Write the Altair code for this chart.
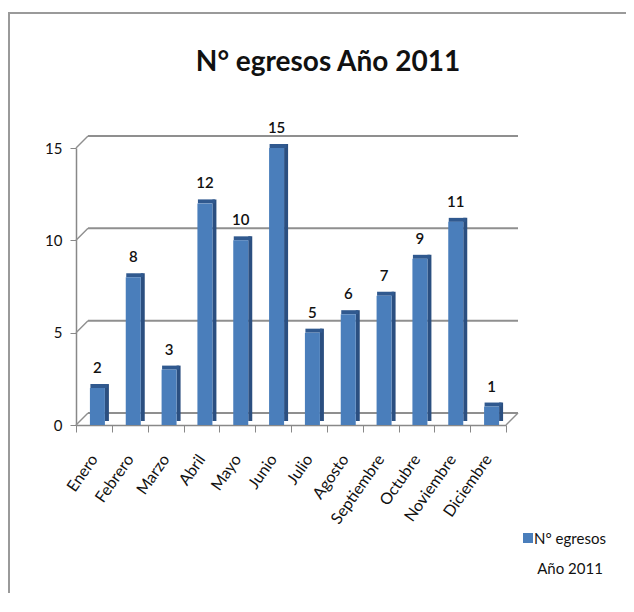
import altair as alt
import pandas as pd

months = ["Enero", "Febrero", "Marzo", "Abril", "Mayo", "Junio", "Julio",
          "Agosto", "Septiembre", "Octubre", "Noviembre", "Diciembre"]
values = [2, 8, 3, 12, 10, 15, 5, 6, 7, 9, 11, 1]
grid_values = [0, 5, 10, 15]
series_name = ["N° egresos", "Año 2011"]

df = pd.DataFrame({"mes": months, "valor": values})
gdf = pd.DataFrame({"g": grid_values})
floor = pd.DataFrame({"g": [0]})
leg = pd.DataFrame({"t": series_name, "row": [0, 1]})

W, H = 430, 277
DEPTH = 12

xenc = alt.X("mes:N", sort=months, scale=alt.Scale(paddingInner=0, paddingOuter=0),
             axis=alt.Axis(title=None, labelAngle=-55, labelFontSize=16, labelFont="Lato",
                           labelColor="#111", labelPadding=24, tickBand="extent",
                           tickSize=7, tickColor="#888", domainColor="#888",
                           domainWidth=1.5, grid=False))
yscale = alt.Scale(domain=[0, 15])
yenc = alt.Y("g:Q", scale=yscale,
             axis=alt.Axis(title=None, values=grid_values, labelFontSize=15, labelFont="Lato",
                           labelColor="#111", labelPadding=8, tickSize=6, tickColor="#888",
                           domainColor="#888", domainWidth=1.5, grid=False))

grid = alt.Chart(gdf).mark_rule(color="#8f8f8f", strokeWidth=2, yOffset=-DEPTH).encode(
    y=yenc, x=alt.value(DEPTH), x2=alt.value(W + DEPTH),
)
diag = alt.Chart(gdf).mark_rule(color="#8f8f8f", strokeWidth=1.5, y2Offset=-DEPTH).encode(
    y=alt.Y("g:Q", scale=yscale, axis=None), y2="g:Q",
    x=alt.value(0), x2=alt.value(DEPTH),
)
floor_r = alt.Chart(floor).mark_rule(color="#8f8f8f", strokeWidth=1.5, y2Offset=-DEPTH).encode(
    y=alt.Y("g:Q", scale=yscale, axis=None), y2="g:Q",
    x=alt.value(W), x2=alt.value(W + DEPTH),
)

side = alt.Chart(df).mark_bar(color="#2b4f80", width=4, xOffset=13, yOffset=-4, y2Offset=-2).encode(
    x=xenc, y=alt.Y("valor:Q", scale=yscale, axis=None),
)
cap = alt.Chart(df).mark_bar(color="#30598f", width=17, xOffset=5, yOffset=-4).encode(
    x=xenc, y=alt.Y("valor:Q", scale=yscale, axis=None), y2="valor:Q",
)
front = alt.Chart(df).mark_bar(color="#4a7ebb", width=15, xOffset=3.5).encode(
    x=xenc, y=alt.Y("valor:Q", scale=yscale, axis=None),
)
labels = alt.Chart(df).mark_text(baseline="bottom", dy=-12, dx=3.5, fontSize=15, font="Lato",
                                 fontWeight=600, color="#111").encode(
    x=xenc, y=alt.Y("valor:Q", scale=yscale, axis=None), text="valor:Q",
)

border = alt.Chart(floor).mark_rect(fill=None, stroke="#9a9a9a", strokeWidth=2).encode(
    x=alt.value(-67), x2=alt.value(700), y=alt.value(-135), y2=alt.value(700),
)

leg_sq = alt.Chart(floor).mark_square(size=100, color="#4a7ebb", opacity=1, filled=True).encode(
    x=alt.value(452), y=alt.value(390),
)
leg_txt = alt.Chart(leg).mark_text(fontSize=15, font="Lato", color="#111", align="center").encode(
    x=alt.value(494),
    y=alt.Y("row:Q", scale=alt.Scale(domain=[0, 1], range=[391, 421]), axis=None),
    text="t:N",
)

chart = alt.layer(border, grid, diag, floor_r, side, cap, front, labels, leg_sq, leg_txt).properties(
    width=W, height=H,
    title=alt.TitleParams("N° egresos Año 2011", fontSize=28, font="Lato", fontWeight="bold",
                          color="#111", anchor="middle", dx=37, offset=-65),
    autosize=alt.AutoSizeParams(type="none"),
    padding={"left": 68, "top": 140, "right": 120, "bottom": 168},
).resolve_scale(y="independent").resolve_axis(y="shared").configure_view(stroke=None)

chart.save("out.html", embed_options={"renderer": "svg", "actions": False})
